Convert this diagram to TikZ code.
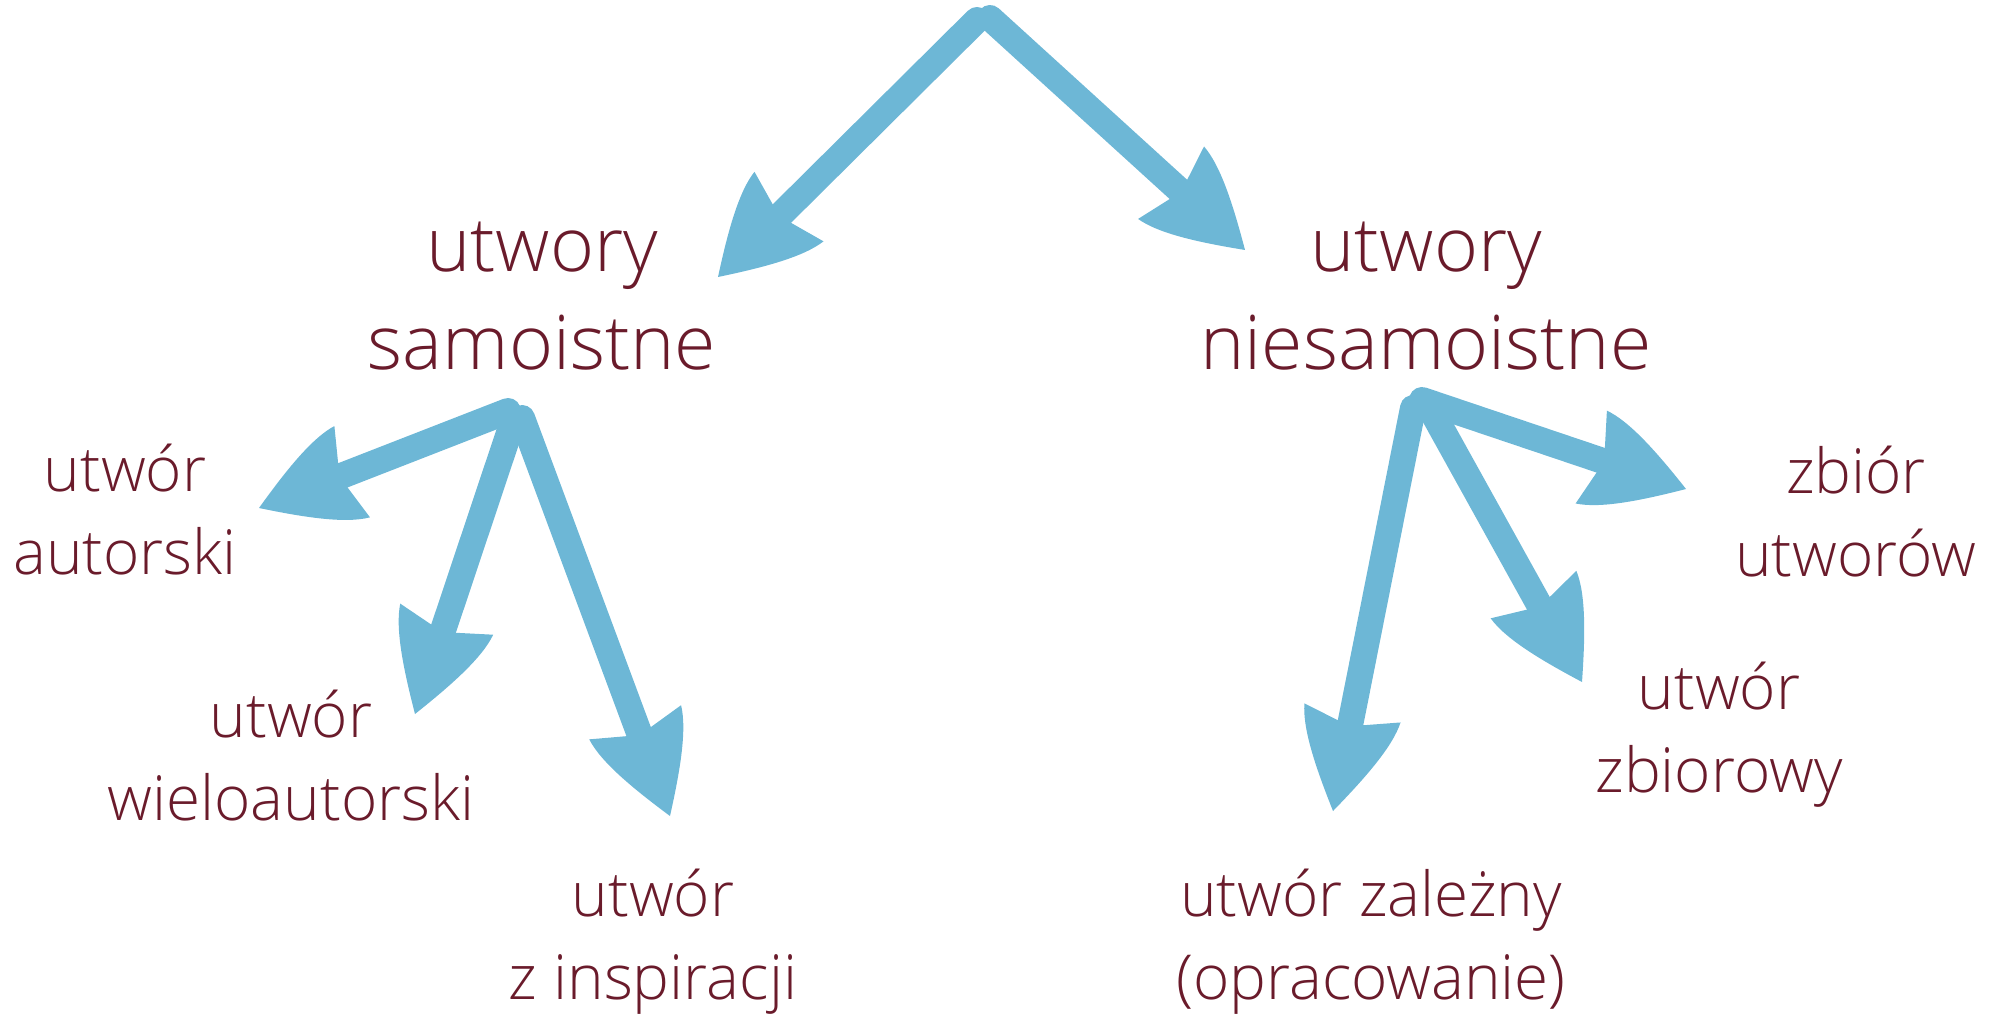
\documentclass[tikz,border=0pt]{standalone}
\usepackage{fontspec}
\setmainfont{Open Sans}[UprightFont=* Light]
\usetikzlibrary{calc}
\definecolor{maroon}{HTML}{6A1B2B}
\definecolor{arrowblue}{HTML}{6DB7D6}
\tikzset{
  big/.style={font=\fontsize{37.6}{49}\selectfont, text=maroon, align=center, inner sep=0pt, anchor=base},
  small/.style={font=\fontsize{31}{41.5}\selectfont, text=maroon, align=center, inner sep=0pt, anchor=base},
  shaft/.style={draw=arrowblue, line width=13pt, line cap=round},
  pics/ahead/.style={code={
    \fill[arrowblue] (0,0) .. controls (-40,26) and (-75,46) .. (-100,49)
      -- (-90,13) -- (-90,-13) -- (-100,-49)
      .. controls (-75,-46) and (-40,-26) .. (0,0) -- cycle;}}
}
\newcommand\bluearrow[2]{%
  \draw[shaft] (#1) -- ($(#2)!40pt!(#1)$);
  \path let \p1=($(#2)-(#1)$), \n1={atan2(\y1,\x1)} in pic[rotate=\n1] at (#2) {ahead};
}
\begin{document}
\begin{tikzpicture}[x=0.5pt,y=-0.5pt]
\useasboundingbox (0,0) rectangle (2000,1015);
% text nodes (anchor = baseline of last line)
\node[big] (samo) at (542,370) {utwory\\samoistne};
\node[big] (niesamo) at (1426,370) {utwory\\niesamoistne};
\node[small] (autorski) at (125,574) {utwór\\autorski};
\node[small] (wielo) at (291,820) {utwór\\wieloautorski};
\node[small] (inspir) at (653,999) {utwór\\z inspiracji};
\node[small] (zbior) at (1856,576) {zbiór\\utworów};
\node[small] (zbiorowy) at (1719,792) {utwór\\zbiorowy};
\node[small] (zalezny) at (1371,999) {utwór zależny\\(opracowanie)};
% arrow anchor coordinates
\coordinate (top1) at (977,20);
\coordinate (top2) at (990,18);
\coordinate (tipL) at (718,277);
\coordinate (tipR) at (1245,250);
\coordinate (s1) at (508,411);
\coordinate (s2) at (514,418);
\coordinate (s3) at (522,418);
\coordinate (tA1) at (259,508);
\coordinate (tA2) at (415,714);
\coordinate (tA3) at (670,816);
\coordinate (r1) at (1422,400);
\coordinate (r2) at (1430,408);
\coordinate (r3) at (1413,408);
\coordinate (tB1) at (1686,489);
\coordinate (tB2) at (1582,682);
\coordinate (tB3) at (1333,811);
% arrows
\bluearrow{top1}{tipL}
\bluearrow{top2}{tipR}
\bluearrow{s1}{tA1}
\bluearrow{s2}{tA2}
\bluearrow{s3}{tA3}
\bluearrow{r1}{tB1}
\bluearrow{r2}{tB2}
\bluearrow{r3}{tB3}
\end{tikzpicture}
\end{document}
